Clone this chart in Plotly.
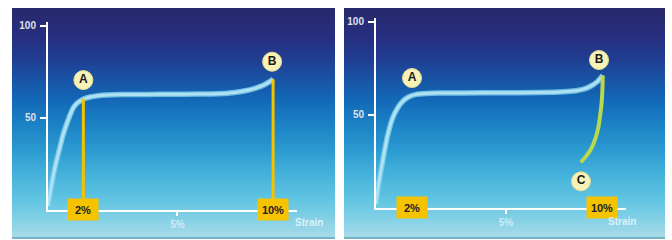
import plotly.graph_objects as go

W, H = 672, 240

# ---------------- data ----------------
tick_pos = [14.2, 52.0, 90.4]          # schematic positions for 2%, 5%, 10%
tick_text = ["2%", "5%", "10%"]
y_ticks = [50, 100]
y_tick_text = ["50", "100"]

# left panel: loading curve
left_x = [0, 1, 2, 3.5, 4.8, 6, 7.5, 9, 10.2, 11.5, 12.9, 14.5, 16.9, 20, 23.6, 30, 40,
          50, 60, 68, 73, 77, 81, 84, 86.5, 88.5, 90.4]
left_y = [2, 10, 17.7, 27, 34, 40.5, 46.6, 52, 55.5, 57.7, 59.1, 60.3, 61.3, 62, 62.4, 62.6,
          62.7, 62.8, 62.9, 63.1, 63.5, 64.2, 65.2, 66.4, 67.7, 69.2, 71]
left_drop_x = [14.2, 90.4]      # yellow guides
left_drop_y = [60.2, 71]
left_lbl = ["A", "B"]
left_lbl_x = [14.2, 90.0]
left_lbl_y = [70.5, 80.5]

# right panel: loading curve + unloading curve
right_x = [0, 1, 2.7, 4.5, 6.7, 8.7, 10.7, 13, 16, 20, 25, 35, 50, 65, 75, 80, 83, 86, 88.5, 90.7]
right_y = [2, 12, 25.3, 38, 48.4, 53.8, 57.3, 59.6, 61, 61.5, 61.7, 61.8, 61.9, 62.0, 62.4,
           63, 63.8, 65.5, 67.8, 71.2]
unload_x = [90.7, 90.6, 90.3, 89.7, 88.9, 87.8, 86.3, 84.3, 81.9]
unload_y = [71.2, 65, 57.3, 50, 43, 37.5, 32.4, 28.2, 24.4]
right_lbl = ["A", "B", "C"]
right_lbl_x = [14.4, 89.2, 82.0]
right_lbl_y = [69.8, 79.5, 14.2]

# ---------------- styling ----------------
CURVE = "#aee2f3"
EDGE = "rgba(125,205,235,0.85)"
YEL = "#f4c300"
GREEN = "#b9d94c"
LBL_BG = "#f7f2b6"

grad_stops = [(6, "#29296c"), (35, "#262f7e"), (58, "#203e92"), (78, "#1954a6"),
              (98, "#1368b6"), (122, "#1a80c4"), (150, "#2c9bd1"), (175, "#47b3dc"),
              (200, "#62c5e2"), (220, "#86d1e6"), (237, "#a8dbe8")]


def hx(c):
    c = c.lstrip("#")
    return [int(c[i:i + 2], 16) for i in (0, 2, 4)]


def color_at(py):
    for (p0, c0), (p1, c1) in zip(grad_stops[:-1], grad_stops[1:]):
        if p0 <= py <= p1:
            t = (py - p0) / (p1 - p0)
            a, b = hx(c0), hx(c1)
            return "rgb(%d,%d,%d)" % tuple(round(a[i] + (b[i] - a[i]) * t) for i in range(3))
    return grad_stops[0][1] if py < grad_stops[0][0] else grad_stops[-1][1]


shapes = []
for (x0, x1) in [(12, 335), (344, 665)]:
    py = 6
    while py < 238:
        bottom = min(py + 5, 238)
        shapes.append(dict(type="rect", xref="paper", yref="paper", layer="below",
                           x0=x0 / W, x1=x1 / W, y0=1 - bottom / H, y1=1 - py / H,
                           fillcolor=color_at(py + 1), line=dict(width=0)))
        py += 2
    shapes.append(dict(type="rect", xref="paper", yref="paper", layer="below",
                       x0=x0 / W, x1=x1 / W, y0=1 - 239 / H, y1=1 - 237 / H,
                       fillcolor="#73b3c4", line=dict(width=0)))

fig = go.Figure()


def add_curve(xa, ya, cx, cy):
    fig.add_trace(go.Scatter(x=cx, y=cy, mode="lines", xaxis=xa, yaxis=ya,
                             line=dict(color=EDGE, width=5.5, shape="spline", smoothing=0.6),
                             hoverinfo="skip", showlegend=False))
    fig.add_trace(go.Scatter(x=cx, y=cy, mode="lines", xaxis=xa, yaxis=ya,
                             line=dict(color=CURVE, width=3, shape="spline", smoothing=0.6),
                             showlegend=False))


# left panel
add_curve("x", "y", left_x, left_y)
for dx, dy in zip(left_drop_x, left_drop_y):
    fig.add_trace(go.Scatter(x=[dx, dx], y=[0, dy], mode="lines", xaxis="x", yaxis="y",
                             line=dict(color=YEL, width=3), showlegend=False))
# right panel
add_curve("x2", "y2", right_x, right_y)
fig.add_trace(go.Scatter(x=unload_x, y=unload_y, mode="lines", xaxis="x2", yaxis="y2",
                         line=dict(color=GREEN, width=4, shape="spline", smoothing=0.6),
                         showlegend=False))

for xa, ya, lx, ly, lt in [("x", "y", left_lbl_x, left_lbl_y, left_lbl),
                           ("x2", "y2", right_lbl_x, right_lbl_y, right_lbl)]:
    fig.add_trace(go.Scatter(x=lx, y=ly, text=lt, mode="markers+text", xaxis=xa, yaxis=ya,
                             marker=dict(size=19, color=LBL_BG,
                                         line=dict(color="#e6dd96", width=1)),
                             textposition="middle center",
                             textfont=dict(family="Liberation Sans", size=12,
                                           color="#1a1a1a", weight="bold"),
                             showlegend=False))

annotations = []
for xa, ya in [("x", "y"), ("x2", "y2")]:
    for p, t in zip([tick_pos[0], tick_pos[2]], [tick_text[0], tick_text[2]]):
        annotations.append(dict(x=p, y=0, xref=xa, yref=ya, text="<b>%s</b>" % t,
                                showarrow=False, bgcolor="#f6c300", width=28, height=19,
                                borderpad=1, align="center", valign="middle",
                                font=dict(family="Liberation Sans", size=11, color="#222222")))
for sx, sy in [(309, 230), (638, 229)]:
    annotations.append(dict(x=sx / W, y=1 - sy / H, xref="paper", yref="paper",
                            text="<b>Strain</b>", showarrow=False,
                            font=dict(family="Liberation Sans", size=10,
                                      color="rgba(235,248,252,0.85)")))

axis_common = dict(showline=True, linecolor="white", linewidth=2, showgrid=False,
                   zeroline=False, ticks="outside", tickcolor="white", tickwidth=2,
                   fixedrange=True)
xtick = dict(tickvals=[tick_pos[1]], ticktext=[tick_text[1]], ticklen=4,
             tickfont=dict(family="Liberation Sans", size=10, color="rgba(225,242,250,0.8)",
                           weight="bold"), range=[0, 100])
ytick = dict(tickvals=y_ticks, ticktext=y_tick_text, range=[0, 102], ticklen=6,
             ticklabelstandoff=2,
             tickfont=dict(family="Liberation Sans", size=10, color="#dde1ee", weight="bold"))

fig.update_layout(
    width=W, height=H, margin=dict(l=0, r=0, t=0, b=0),
    paper_bgcolor="white", plot_bgcolor="rgba(0,0,0,0)",
    shapes=shapes, annotations=annotations,
    xaxis=dict(domain=[48 / W, 297 / W], anchor="y", **axis_common, **xtick),
    yaxis=dict(domain=[1 - 209.5 / H, 1 - 20.3 / H], anchor="x", **axis_common, **ytick),
    xaxis2=dict(domain=[376 / W, 626 / W], anchor="y2", **axis_common, **xtick),
    yaxis2=dict(domain=[1 - 207.5 / H, 1 - 16.3 / H], anchor="x2", **axis_common, **ytick),
)

fig.write_html("out.html", config={"displayModeBar": False},
               post_script="document.body.style.margin='0';document.body.style.padding='0';")
